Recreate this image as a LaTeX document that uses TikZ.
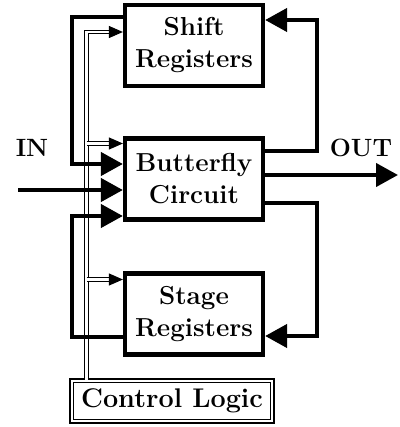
\documentclass[tikz,border=0pt]{standalone}
\usetikzlibrary{arrows.meta}
\begin{document}
\begin{tikzpicture}[x=0.5pt,y=-0.5pt,
  blk/.style={draw, line width=2.1pt, minimum width=69pt, minimum height=40.5pt,
    align=center, inner sep=0pt, font=\fontsize{13}{16}\selectfont\bfseries},
  ctrlbox/.style={draw, double, line width=0.8pt, double distance=1pt,
    minimum width=100.4pt, minimum height=20.4pt, inner sep=0pt,
    font=\fontsize{13.5}{16}\selectfont\bfseries},
  wire/.style={line width=2.1pt},
  bigtip/.style={-{Triangle[length=11pt,width=11.5pt]}},
  ctrl/.style={double, line width=0.5pt, double distance=1.2pt},
  smalltip/.style={-{Triangle[length=7pt,width=6pt]}},
  lbl/.style={font=\fontsize{12.5}{14}\selectfont\bfseries, inner sep=0pt}
]
\useasboundingbox (0,0) rectangle (400,427);

\node[blk] (sr) at (194,45.5) {Shift\\Registers};
\node[blk] (bf) at (194,179) {Butterfly\\Circuit};
\node[blk] (st) at (194,314) {Stage\\Registers};
\node[ctrlbox] (cl) at (172,401) {Control Logic};

\node[lbl] (inl) at (32,148) {IN};
\node[lbl] (outl) at (361,148) {OUT};

% control lines (drawn first, thick wires pass over them)
\coordinate (c0) at (86.5,32);
\coordinate (c1) at (86.5,143.5);
\coordinate (c2) at (86.5,279.5);
\draw[ctrl, smalltip] (cl.north -| c0) -- (c0) -- (sr.west |- c0);
\draw[ctrl, smalltip] (c1) -- (bf.west |- c1);
\draw[ctrl, smalltip] (c2) -- (st.west |- c2);

% left loops
\coordinate (lsr) at (72,17);
\coordinate (lb1) at (72,164);
\draw[wire, bigtip] (sr.west |- lsr) -- (lsr) |- (bf.west |- lb1);
\coordinate (inp) at (18,190);
\draw[wire, bigtip] (inp) -- (bf.west |- inp);
\coordinate (lst) at (72,337);
\coordinate (lb3) at (72,216);
\draw[wire, bigtip] (st.west |- lst) -- (lst) |- (bf.west |- lb3);

% right loops
\coordinate (r1) at (317,151);
\coordinate (r0) at (317,20);
\draw[wire, bigtip] (bf.east |- r1) -- (r1) |- (sr.east |- r0);
\coordinate (outp) at (398,175);
\draw[wire, bigtip] (bf.east |- outp) -- (outp);
\coordinate (r2) at (317,203);
\coordinate (r3) at (317,336);
\draw[wire, bigtip] (bf.east |- r2) -- (r2) |- (st.east |- r3);
\end{tikzpicture}
\end{document}
